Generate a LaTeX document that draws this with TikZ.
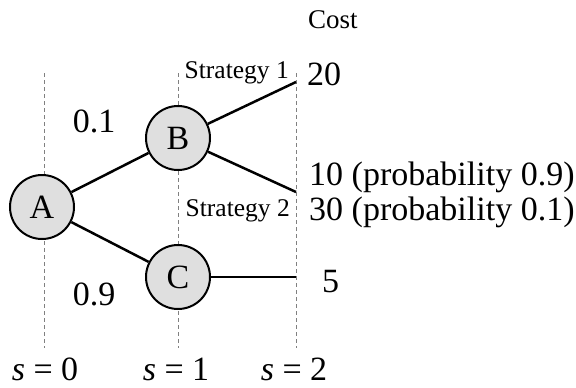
\documentclass[tikz,border=0pt]{standalone}
\usepackage{fontspec}
\setmainfont{Liberation Serif}
\begin{document}
\begin{tikzpicture}[x=1pt,y=-1pt,
  stnode/.style={circle,draw=black,line width=2pt,fill=gray!25,minimum size=64pt,inner sep=0pt,font=\fontsize{34}{40}\selectfont},
  edge/.style={line width=2.5pt},
  guide/.style={gray,line width=1pt,dash pattern=on 4pt off 3pt},
  big/.style={font=\fontsize{34}{40}\selectfont,inner sep=0pt},
  small/.style={font=\fontsize{25.5}{30}\selectfont,inner sep=0pt}]
\useasboundingbox (0,0) rectangle (576,388);
% guide lines
\coordinate (t0) at (44,73);  \coordinate (b0) at (44,348);
\coordinate (t1) at (178,73); \coordinate (b1) at (178,348);
\coordinate (t2) at (296,73); \coordinate (b2) at (296,348);
\draw[guide] (t0) -- (b0);
\draw[guide] (t1) -- (b1);
\draw[guide] (t2) -- (b2);
% end points
\coordinate (e1) at (296,82);
\coordinate (e2) at (296,192);
\coordinate (e3) at (296,277);
% nodes
\node[stnode] (A) at (42,207) {A};
\node[stnode] (B) at (178,138) {B};
\node[stnode] (C) at (178,277) {C};
% edges
\draw[edge] (A) -- (B);
\draw[edge] (A) -- (C);
\draw[edge] (B) -- (e1);
\draw[edge] (B) -- (e2);
\draw[edge] (C) -- (e3);
% labels
\node[big,anchor=base] (p1) at (94,132) {0.1};
\node[big,anchor=base] (p9) at (94,305) {0.9};
\node[small,anchor=base east] (s1) at (289,78) {Strategy 1};
\node[small,anchor=base east] (s2) at (290,216) {Strategy 2};
\node[font=\fontsize{27}{32}\selectfont,inner sep=0pt,anchor=base west] (cost) at (308,28) {Cost};
\node[big,anchor=base west] (c20) at (307,85) {20};
\node[big,anchor=base west] (c10) at (309,185) {10 (probability 0.9)};
\node[big,anchor=base west] (c30) at (309,220) {30 (probability 0.1)};
\node[big,anchor=base west] (c5) at (322,292) {5};
\node[big,anchor=base] (st0) at (45,380) {\textit{s} = 0};
\node[big,anchor=base] (st1) at (176,380) {\textit{s} = 1};
\node[big,anchor=base] (st2) at (294,380) {\textit{s} = 2};
\end{tikzpicture}
\end{document}
